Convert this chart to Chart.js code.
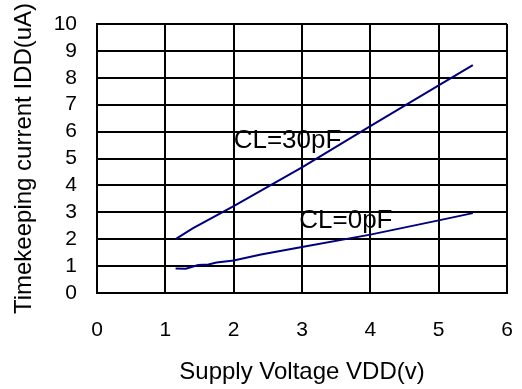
<!DOCTYPE html>
<html>
<head>
<meta charset="utf-8">
<script src="https://cdn.jsdelivr.net/npm/chart.js@4/dist/chart.umd.min.js"></script>
<style>
	html, body { margin: 0; padding: 0; background: #fff; }
	canvas { display: block; }
</style>
</head>
<body>
<canvas id="chart" width="522" height="389"></canvas>
<script>
// supply voltage (V) and timekeeping current (uA) for each load capacitance
const vdd30 = [1.15, 1.4, 2, 3, 4, 5, 5.5];
const idd30 = [2.0, 2.4, 3.23, 4.67, 6.2, 7.72, 8.47];
const vdd0 = [1.15, 1.3, 1.48, 1.63, 1.75, 2, 2.4, 3, 4, 5, 5.5];
const idd0 = [0.91, 0.9, 1.04, 1.06, 1.13, 1.21, 1.43, 1.71, 2.17, 2.7, 2.97];

// curve captions, anchored in data units (left edge, baseline)
const captions = [
	{text: 'CL=30pF', x: 2.0, y: 5.4},
	{text: 'CL=0pF', x: 2.96, y: 2.4}
];

const FONT = '"Liberation Sans", Arial, sans-serif';
const LINE = '#00007f';

function toPoints(xs, ys) {
	return xs.map(function(x, i) {
		return {x: x, y: ys[i]};
	});
}

const captionPlugin = {
	id: 'captions',
	afterDatasetsDraw: function(chart) {
		const ctx = chart.ctx;
		const xs = chart.scales.x;
		const ys = chart.scales.y;
		ctx.save();
		ctx.font = '26px ' + FONT;
		ctx.fillStyle = '#000';
		ctx.textAlign = 'left';
		ctx.textBaseline = 'alphabetic';
		captions.forEach(function(c) {
			ctx.fillText(c.text, xs.getPixelForValue(c.x), ys.getPixelForValue(c.y));
		});
		ctx.restore();
	}
};

// invisible tick marks keep the labels away from the frame
// (ticks.padding would also widen the chart-area margins)
new Chart(document.getElementById('chart').getContext('2d'), {
	type: 'line',
	data: {
		datasets: [{
			data: toPoints(vdd30, idd30),
			borderColor: LINE,
			borderWidth: 2,
			pointRadius: 0,
			tension: 0
		}, {
			data: toPoints(vdd0, idd0),
			borderColor: LINE,
			borderWidth: 2,
			pointRadius: 0,
			tension: 0
		}]
	},
	options: {
		responsive: false,
		animation: false,
		layout: {padding: {top: 24, right: 15, bottom: 0, left: 0}},
		plugins: {
			legend: {display: false},
			tooltip: {enabled: false}
		},
		scales: {
			x: {
				type: 'linear',
				min: 0,
				max: 6,
				afterFit: function(scale) { scale.height = 96; },
				ticks: {stepSize: 1, autoSkip: false, padding: 0, color: '#000', font: {family: FONT, size: 21}},
				grid: {color: '#000', lineWidth: 2, tickLength: 25, tickColor: 'rgba(0,0,0,0)'},
				border: {color: '#000', width: 2},
				title: {
					display: true,
					text: 'Supply Voltage VDD(v)',
					color: '#000',
					padding: {top: 2, bottom: 2},
					font: {family: FONT, size: 24}
				}
			},
			y: {
				type: 'linear',
				min: 0,
				max: 10,
				afterFit: function(scale) { scale.width = 97; },
				ticks: {stepSize: 1, autoSkip: false, padding: 0, color: '#000', font: {family: FONT, size: 21}},
				grid: {color: '#000', lineWidth: 2, tickLength: 20, tickColor: 'rgba(0,0,0,0)'},
				border: {color: '#000', width: 2},
				title: {
					display: true,
					text: 'Timekeeping current IDD(uA)',
					color: '#000',
					padding: {top: 10, bottom: 4},
					font: {family: FONT, size: 24}
				}
			}
		}
	},
	plugins: [captionPlugin]
});
</script>
</body>
</html>
